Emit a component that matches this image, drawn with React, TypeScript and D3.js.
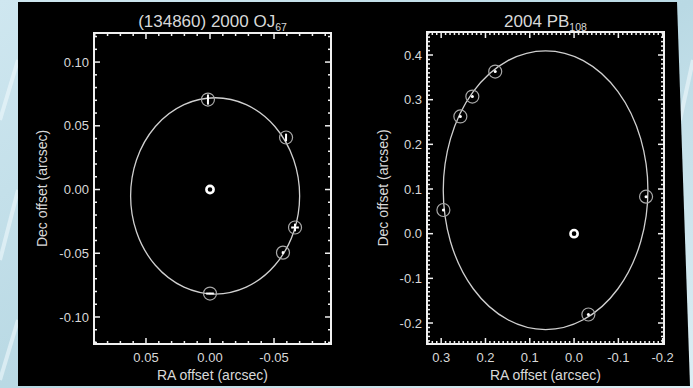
import React from 'react';
import * as d3 from 'd3';

// (134860) 2000 OJ67 — relative astrometry (arcsec)
const ojRa = [0.0016, -0.0594, -0.0664, -0.057, 0.0];
const ojDec = [0.0706, 0.0408, -0.0298, -0.0495, -0.0816];
const ojRaErr = [0.0005, 0.0005, 0.003, 0.001, 0.003];
const ojDecErr = [0.004, 0.003, 0.003, 0.001, 0.0005];
// fitted orbit: centre RA, centre Dec, semi-axis RA, semi-axis Dec
const ojOrbit = [-0.004, -0.005, 0.066, 0.077];

// 2004 PB108
const pbRa = [0.178, 0.2296, 0.2567, 0.295, -0.1625, -0.0323];
const pbDec = [0.363, 0.307, 0.2624, 0.053, 0.0828, -0.181];
const pbRaErr = [0.002, 0.002, 0.002, 0.002, 0.002, 0.002];
const pbDecErr = [0.002, 0.002, 0.002, 0.002, 0.002, 0.002];
const pbOrbit = [0.0643, 0.0973, 0.231, 0.312];

// tick labels
const ojRaTicks = [0.05, 0, -0.05];
const ojRaLabels = ['0.05', '0.00', '-0.05'];
const ojDecTicks = [0.1, 0.05, 0, -0.05, -0.1];
const ojDecLabels = ['0.10', '0.05', '0.00', '-0.05', '-0.10'];
const pbRaTicks = [0.3, 0.2, 0.1, 0, -0.1, -0.2];
const pbRaLabels = ['0.3', '0.2', '0.1', '0.0', '-0.1', '-0.2'];
const pbDecTicks = [0.4, 0.3, 0.2, 0.1, 0, -0.1, -0.2];
const pbDecLabels = ['0.4', '0.3', '0.2', '0.1', '0.0', '-0.1', '-0.2'];

const FONT = '"Liberation Sans", Arial, Helvetica, sans-serif';
const TXT = '#d9d9d9';
const LINE = '#f0f0f0';

type PanelProps = {
  box: [number, number, number, number]; // left, top, right, bottom (px)
  xDomain: [number, number];
  yDomain: [number, number];
  xTicks: number[]; xLabels: string[];
  yTicks: number[]; yLabels: string[];
  minor: number; majorEvery: number;
  ra: number[]; dec: number[]; raErr: number[]; decErr: number[];
  orbit: number[];
  title: string; sub: string;
  yTitleX: number;
  dotInside: boolean;
};

const Panel = (p: PanelProps) => {
  const [l, t, r, b] = p.box;
  const x = d3.scaleLinear().domain(p.xDomain).range([l, r]);
  const y = d3.scaleLinear().domain(p.yDomain).range([b, t]);

  // tick positions along each axis, in units of the minor step
  const steps = (dom: [number, number]) => {
    const lo = Math.min(dom[0], dom[1]);
    const hi = Math.max(dom[0], dom[1]);
    return d3.range(Math.ceil(lo / p.minor - 1e-6), Math.floor(hi / p.minor + 1e-6) + 1);
  };
  const xs = steps(p.xDomain);
  const ys = steps(p.yDomain);
  const len = (i: number) => (i % p.majorEvery === 0 ? 6 : 3);

  const [ocx, ocy, oa, ob] = p.orbit;
  const cx = (l + r) / 2;

  return (
    <g>
      <text x={cx} y={27} textAnchor="middle" fill={TXT} fontSize={17} fontFamily={FONT}>
        {p.title}
        <tspan fontSize={10.5} dy={4}>{p.sub}</tspan>
      </text>

      {/* orbit */}
      <ellipse
        cx={x(ocx)} cy={y(ocy)}
        rx={Math.abs(x(oa) - x(0))} ry={Math.abs(y(ob) - y(0))}
        fill="none" stroke="#d0d0d0" strokeWidth={1.3}
      />

      {/* primary */}
      <circle cx={x(0)} cy={y(0)} r={3.6} fill="none" stroke="#fff" strokeWidth={2.6} />

      {/* satellite positions */}
      {p.ra.map((v, i) => (
        <g key={i}>
          <circle cx={x(v)} cy={y(p.dec[i])} r={6.5} fill="none" stroke="#a8a8a8" strokeWidth={1.2} />
          {p.dotInside ? (
            <circle cx={x(v)} cy={y(p.dec[i])} r={1.5} fill="#fff" />
          ) : (
            <g stroke="#fff" strokeWidth={2}>
              <line x1={x(v - p.raErr[i])} x2={x(v + p.raErr[i])} y1={y(p.dec[i])} y2={y(p.dec[i])} />
              <line x1={x(v)} x2={x(v)} y1={y(p.dec[i] - p.decErr[i])} y2={y(p.dec[i] + p.decErr[i])} />
            </g>
          )}
        </g>
      ))}

      {/* ticks on all four sides */}
      <g stroke={LINE} strokeWidth={1.5}>
        {xs.map(i => (
          <g key={'x' + i}>
            <line x1={x(i * p.minor)} x2={x(i * p.minor)} y1={b} y2={b - len(i)} />
            <line x1={x(i * p.minor)} x2={x(i * p.minor)} y1={t} y2={t + len(i)} />
          </g>
        ))}
        {ys.map(i => (
          <g key={'y' + i}>
            <line x1={l} x2={l + len(i)} y1={y(i * p.minor)} y2={y(i * p.minor)} />
            <line x1={r} x2={r - len(i)} y1={y(i * p.minor)} y2={y(i * p.minor)} />
          </g>
        ))}
      </g>
      <rect x={l} y={t} width={r - l} height={b - t} fill="none" stroke={LINE} strokeWidth={2} />

      {/* tick labels */}
      {p.xTicks.map((v, i) => (
        <text key={'xl' + i} x={x(v)} y={362} textAnchor="middle" fill={TXT} fontSize={13} fontFamily={FONT}>
          {p.xLabels[i]}
        </text>
      ))}
      {p.yTicks.map((v, i) => (
        <text key={'yl' + i} x={l - 5} y={y(v)} dy="0.35em" textAnchor="end" fill={TXT} fontSize={13} fontFamily={FONT}>
          {p.yLabels[i]}
        </text>
      ))}
      <text x={cx} y={380} textAnchor="middle" fill={TXT} fontSize={14} fontFamily={FONT}>
        RA offset (arcsec)
      </text>
      <text
        transform={`translate(${p.yTitleX},${(t + b) / 2}) rotate(-90)`}
        dy="0.35em" textAnchor="middle" fill={TXT} fontSize={14} fontFamily={FONT}
      >
        Dec offset (arcsec)
      </text>
    </g>
  );
};

const App = () => {
  return (
    <svg width={693} height={388} style={{ position: 'absolute', left: 0, top: 0, display: 'block' }}>
      <defs>
        <linearGradient id="bg" x1="0" y1="0" x2="1" y2="1">
          <stop offset="0" stopColor="#cfe7f0" />
          <stop offset="0.5" stopColor="#b9d9e4" />
          <stop offset="1" stopColor="#dceef4" />
        </linearGradient>
      </defs>
      <rect width={693} height={388} fill="url(#bg)" />
      <g stroke="#eef8fb" strokeOpacity={0.6} strokeWidth={4}>
        <line x1={0} y1={120} x2={18} y2={60} />
        <line x1={0} y1={260} x2={18} y2={190} />
        <line x1={0} y1={380} x2={18} y2={320} />
        <line x1={680} y1={120} x2={693} y2={60} />
      </g>
      <polygon points="18,2 677,2 690,386 18,386" fill="#000" />

      <Panel
        box={[94, 33, 331, 344]}
        xDomain={[0.0906, -0.0945]}
        yDomain={[-0.1212, 0.1228]}
        xTicks={ojRaTicks} xLabels={ojRaLabels}
        yTicks={ojDecTicks} yLabels={ojDecLabels}
        minor={0.01} majorEvery={5}
        ra={ojRa} dec={ojDec} raErr={ojRaErr} decErr={ojDecErr}
        orbit={ojOrbit}
        title="(134860) 2000 OJ" sub="67"
        yTitleX={42}
        dotInside={false}
      />
      <Panel
        box={[427, 32, 664, 344]}
        xDomain={[0.332, -0.203]}
        yDomain={[-0.247, 0.4515]}
        xTicks={pbRaTicks} xLabels={pbRaLabels}
        yTicks={pbDecTicks} yLabels={pbDecLabels}
        minor={0.01} majorEvery={10}
        ra={pbRa} dec={pbDec} raErr={pbRaErr} decErr={pbDecErr}
        orbit={pbOrbit}
        title="2004 PB" sub="108"
        yTitleX={383}
        dotInside={true}
      />
    </svg>
  );
};

export default App;
